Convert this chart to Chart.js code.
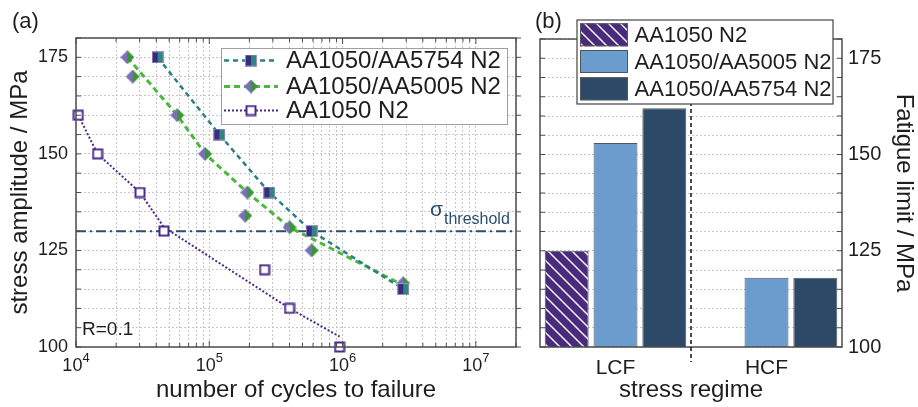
<!DOCTYPE html>
<html>
<head>
<meta charset="utf-8">
<title>Fatigue behaviour of AA1050 laminates</title>
<script src="https://cdn.jsdelivr.net/npm/chart.js@4"></script>
<style>
  html, body { margin: 0; padding: 0; background: #fff; }
  #panels { position: relative; width: 918px; height: 407px; }
  #panelA { position: absolute; left: 0; top: 0; }
  #panelB { position: absolute; left: 525px; top: 0; }
</style>
</head>
<body>
<div id="panels">
  <canvas id="panelA" width="525" height="407"></canvas>
  <canvas id="panelB" width="393" height="407"></canvas>
</div>
<script>
// ---------------- (a) S-N data ----------------
const cycles1050 = [1.04e4, 1.45e4, 3.02e4, 4.57e4, 2.6e5, 4.0e5, 9.5e5];
const stress1050 = [160, 150, 140, 130, 120, 110, 100];
const cycles5005 = [2.43e4, 2.66e4, 5.75e4, 9.3e4, 1.93e5, 1.86e5, 4.0e5, 5.86e5, 2.85e6];
const stress5005 = [175, 170, 160, 150, 140, 134, 131, 125, 116.5];
const cycles5754 = [4.1e4, 1.19e5, 2.82e5, 5.86e5, 2.85e6];
const stress5754 = [175, 155, 140, 130, 115];

// trend lines through the data
const trendCycles1050 = [1.04e4, 1.45e4, 3.02e4, 4.57e4, 4.0e5, 9.5e5];
const trendStress1050 = [160, 150, 140, 131, 110, 102.7];
const trendCycles5005 = [2.43e4, 5.75e4, 9.3e4, 1.93e5, 4.0e5, 2.85e6];
const trendStress5005 = [175, 160, 150, 140, 131, 116];
const trendCycles5754 = [4.1e4, 1.19e5, 2.82e5, 5.86e5, 2.85e6];
const trendStress5754 = [175, 155, 140, 130, 115];

const thresholdStress = 130;
const decadeTicks = [1e4, 1e5, 1e6, 1e7];
const stressTicks = [100, 125, 150, 175];

// ---------------- (b) fatigue limits ----------------
const regimes = ['LCF', 'HCF'];
const limit1050 = [125, null];
const limit5005 = [153, 118];
const limit5754 = [162, 118];

// ----------------------------------------------------
const FAMILY = "'Liberation Sans', Arial, sans-serif";
const font = size => size + 'px ' + FAMILY;
Chart.defaults.font.family = FAMILY;
Chart.defaults.color = '#1e1e1e';

const PURPLE = '#4b2a8c';
const TEAL = '#2b8080';
const GREEN = '#4ab83e';
const NAVY = '#2c4a68';
const LIGHTBLUE = '#6a9dcd';
const FRAME = '#4d4d4d';
const GRID = '#c6c6c6';

const pts = (xs, ys) => xs.map((x, i) => ({x, y: ys[i]}));

function markerCanvas(w, h, draw) {
  const c = document.createElement('canvas');
  c.width = w; c.height = h;
  draw(c.getContext('2d'));
  return c;
}

const square5754 = markerCanvas(12, 12, g => {
  g.fillStyle = '#3b2b80'; g.fillRect(0, 0, 6, 12);
  g.fillStyle = '#2e8582'; g.fillRect(6, 0, 6, 12);
  g.strokeStyle = '#9a92c4'; g.lineWidth = 1; g.strokeRect(0.5, 0.5, 11, 11);
});
const diamond5005 = markerCanvas(14, 14, g => {
  g.fillStyle = '#7a70b8';
  g.beginPath(); g.moveTo(7, 0); g.lineTo(0, 7); g.lineTo(7, 14); g.closePath(); g.fill();
  g.fillStyle = '#3b9538';
  g.beginPath(); g.moveTo(7, 0); g.lineTo(14, 7); g.lineTo(7, 14); g.closePath(); g.fill();
});
const square1050 = markerCanvas(12, 12, g => {
  g.fillStyle = '#fff'; g.fillRect(1, 1, 10, 10);
  g.strokeStyle = PURPLE; g.lineWidth = 2; g.strokeRect(1.5, 1.5, 9, 9);
});

function hatch(color) {
  const t = document.createElement('canvas');
  t.width = t.height = 12;
  const g = t.getContext('2d');
  g.fillStyle = color; g.fillRect(0, 0, 12, 12);
  g.strokeStyle = '#fff'; g.lineWidth = 1.4;
  g.beginPath();
  [-12, 0, 12].forEach(c => { g.moveTo(-1, -1 + c); g.lineTo(13, 13 + c); });
  g.stroke();
  return g.createPattern(t, 'repeat');
}
const hatch1050 = hatch('#4a2a7c');

function line(ctx, x1, y1, x2, y2) {
  ctx.beginPath(); ctx.moveTo(x1, y1); ctx.lineTo(x2, y2); ctx.stroke();
}

// ---------------- panel (a) ----------------
const legendA = [
  {label: 'AA1050/AA5754 N2', color: TEAL, dash: [5, 4], width: 2.5, marker: square5754},
  {label: 'AA1050/AA5005 N2', color: GREEN, dash: [6, 4], width: 3, marker: diamond5005},
  {label: 'AA1050 N2', color: PURPLE, dash: [2, 2], width: 2, marker: square1050}
];

const decorA = {
  id: 'decorA',
  beforeDatasetsDraw(chart) {
    const {ctx, chartArea: a, scales: {y}} = chart;
    const yT = y.getPixelForValue(thresholdStress);
    ctx.save();
    ctx.strokeStyle = '#2b4d72'; ctx.lineWidth = 2; ctx.setLineDash([10, 4, 2, 4]);
    line(ctx, a.left, yT, a.right, yT);
    ctx.restore();
  },
  afterDraw(chart) {
    const {ctx, chartArea: a, scales: {x, y}} = chart;
    ctx.save();
    // frame and ticks
    ctx.strokeStyle = FRAME; ctx.lineWidth = 1.5;
    ctx.strokeRect(a.left, a.top, a.right - a.left, a.bottom - a.top);
    ctx.lineWidth = 1;
    y.ticks.forEach(t => {
      const py = y.getPixelForValue(t.value);
      line(ctx, a.left, py, a.left + 5, py);
      line(ctx, a.right, py, a.right + 5, py);
    });
    x.ticks.forEach(t => {
      const px = x.getPixelForValue(t.value);
      const len = decadeTicks.includes(t.value) ? 6 : 4;
      line(ctx, px, a.bottom, px, a.bottom - len);
      line(ctx, px, a.top, px, a.top + len);
    });

    // 10^n tick labels
    ctx.fillStyle = '#1e1e1e';
    ctx.textAlign = 'left'; ctx.textBaseline = 'alphabetic';
    decadeTicks.forEach(v => {
      const px = x.getPixelForValue(v);
      const exp = String(Math.round(Math.log10(v)));
      ctx.font = font(18); const w1 = ctx.measureText('10').width;
      ctx.font = font(13); const w2 = ctx.measureText(exp).width;
      const x0 = px - (w1 + w2) / 2;
      ctx.font = font(18); ctx.fillText('10', x0, a.bottom + 24);
      ctx.font = font(13); ctx.fillText(exp, x0 + w1, a.bottom + 15);
    });

    // threshold label
    const yT = y.getPixelForValue(thresholdStress);
    ctx.fillStyle = '#2b4d72';
    ctx.font = font(21); ctx.fillText('σ', a.right - 86, yT - 15);
    const ws = ctx.measureText('σ').width;
    ctx.font = font(16); ctx.fillText('threshold', a.right - 86 + ws + 1, yT - 7.5);

    ctx.fillStyle = '#1e1e1e';
    ctx.font = font(19); ctx.fillText('R=0.1', a.left + 6, a.bottom - 12);
    ctx.font = font(22); ctx.fillText('(a)', 12, 28);

    // legend
    const lx = a.right - 295, ly = a.top + 10, lw = 286, lh = 76;
    ctx.fillStyle = '#fff'; ctx.fillRect(lx, ly, lw, lh);
    ctx.strokeStyle = '#a0a0a0'; ctx.lineWidth = 1;
    ctx.strokeRect(lx + 0.5, ly + 0.5, lw, lh);
    const rows = [12.5, 38.5, 62.5];
    legendA.forEach((e, i) => {
      const ry = ly + rows[i];
      ctx.strokeStyle = e.color; ctx.lineWidth = e.width; ctx.setLineDash(e.dash);
      line(ctx, lx + 3, ry, lx + 57, ry);
      ctx.setLineDash([]);
      ctx.drawImage(e.marker, lx + 30 - e.marker.width / 2, ry - e.marker.height / 2);
      ctx.fillStyle = '#1e1e1e'; ctx.font = font(24); ctx.textBaseline = 'middle';
      ctx.fillText(e.label, lx + 65, ry + 1);
    });
    ctx.restore();
  }
};

new Chart(document.getElementById('panelA'), {
  type: 'scatter',
  data: {
    datasets: [
      {data: pts(cycles5754, stress5754), pointStyle: square5754, clip: false},
      {data: pts(cycles5005, stress5005), pointStyle: diamond5005, clip: false},
      {data: pts(cycles1050, stress1050), pointStyle: square1050, clip: false},
      {data: pts(trendCycles5754, trendStress5754), showLine: true, pointRadius: 0,
       borderColor: TEAL, borderWidth: 2.5, borderDash: [5, 4]},
      {data: pts(trendCycles5005, trendStress5005), showLine: true, pointRadius: 0,
       borderColor: GREEN, borderWidth: 3, borderDash: [6, 4]},
      {data: pts(trendCycles1050, trendStress1050), showLine: true, pointRadius: 0,
       borderColor: PURPLE, borderWidth: 2, borderDash: [2, 2]}
    ]
  },
  options: {
    responsive: false,
    animation: false,
    layout: {padding: {left: 0, top: 38, right: 9, bottom: 0}},
    scales: {
      x: {
        type: 'logarithmic', min: 1e4, max: 2e7,
        afterBuildTicks(scale) {
          const vals = [];
          decadeTicks.forEach(d => {
            for (let m = 1; m <= 9; m++) if (d * m <= scale.max) vals.push(d * m);
          });
          scale.ticks = vals.map(value => ({value}));
        },
        ticks: {display: false},
        grid: {color: GRID, drawTicks: false},
        border: {display: false, dash: [2, 2]},
        title: {display: true, text: 'number of cycles to failure', font: {size: 24}, padding: {top: 0, bottom: 2}},
        afterFit(s) { s.height = 60; }
      },
      y: {
        min: 100, max: 180,
        ticks: {stepSize: 5, font: {size: 18}, padding: 8, autoSkip: false,
                callback: v => stressTicks.includes(v) ? v : ''},
        grid: {color: GRID, drawTicks: false},
        border: {display: false, dash: [2, 2]},
        title: {display: true, text: 'stress amplitude / MPa', font: {size: 24}, padding: {top: 6, bottom: 0}},
        afterFit(s) { s.width = 76; }
      }
    },
    plugins: {legend: {display: false}, tooltip: {enabled: false}}
  },
  plugins: [decorA]
});

// ---------------- panel (b) ----------------
const decorB = {
  id: 'decorB',
  afterDraw(chart) {
    const {ctx, chartArea: a, scales: {x, y}} = chart;
    ctx.save();
    ctx.strokeStyle = FRAME; ctx.lineWidth = 1.5;
    ctx.strokeRect(a.left, a.top, a.right - a.left, a.bottom - a.top);
    ctx.lineWidth = 1;
    y.ticks.forEach(t => {
      const py = y.getPixelForValue(t.value);
      line(ctx, a.left, py, a.left + 5, py);
      line(ctx, a.right, py, a.right - 5, py);
    });

    // regime separator
    const xs = (x.getPixelForValue(0) + x.getPixelForValue(1)) / 2;
    ctx.strokeStyle = '#111'; ctx.lineWidth = 1.5; ctx.setLineDash([4, 3]);
    line(ctx, xs, a.top, xs, a.bottom + 15);
    ctx.setLineDash([]);

    ctx.fillStyle = '#1e1e1e'; ctx.font = font(22);
    ctx.textAlign = 'left'; ctx.textBaseline = 'alphabetic';
    ctx.fillText('(b)', 10, 28);

    // legend
    const lx = a.right - 265, ly = 20, lw = 256, lh = 84;
    ctx.fillStyle = '#fff'; ctx.fillRect(lx, ly, lw, lh);
    ctx.strokeStyle = '#444'; ctx.lineWidth = 1.2;
    ctx.strokeRect(lx, ly, lw, lh);
    const rowsTop = [3.3, 30, 57.3];
    chart.data.datasets.forEach((ds, i) => {
      const sy = ly + rowsTop[i];
      ctx.fillStyle = ds.backgroundColor;
      ctx.fillRect(lx + 3, sy, 48, 23);
      ctx.strokeStyle = '#555'; ctx.lineWidth = 1;
      ctx.strokeRect(lx + 3.5, sy + 0.5, 47, 22);
      ctx.fillStyle = '#1e1e1e'; ctx.font = font(22); ctx.textBaseline = 'middle';
      ctx.fillText(ds.label, lx + 57.6, sy + 12.5);
    });
    ctx.restore();
  }
};

new Chart(document.getElementById('panelB'), {
  type: 'bar',
  data: {
    labels: regimes,
    datasets: [
      {label: 'AA1050 N2', data: limit1050, backgroundColor: hatch1050},
      {label: 'AA1050/AA5005 N2', data: limit5005, backgroundColor: LIGHTBLUE},
      {label: 'AA1050/AA5754 N2', data: limit5754, backgroundColor: NAVY}
    ]
  },
  options: {
    responsive: false,
    animation: false,
    layout: {padding: {left: 15, top: 39, right: 0, bottom: 0}},
    datasets: {bar: {categoryPercentage: 0.97, barPercentage: 0.9, borderColor: '#555', borderWidth: 1}},
    scales: {
      x: {
        grid: {display: false},
        border: {display: false},
        ticks: {font: {size: 21}, padding: 1, color: '#1e1e1e'},
        title: {display: true, text: 'stress regime', font: {size: 24}, padding: {top: 0, bottom: 2}},
        afterFit(s) { s.height = 60; }
      },
      y: {
        position: 'right', min: 100, max: 180,
        ticks: {stepSize: 5, font: {size: 20}, padding: 6, autoSkip: false,
                callback: v => stressTicks.includes(v) ? v : ''},
        grid: {color: GRID, drawTicks: false},
        border: {display: false, dash: [2, 2]},
        title: {display: true, text: 'Fatigue limit / MPa', font: {size: 24}, padding: {top: 0, bottom: 0}},
        afterFit(s) { s.width = 76; }
      }
    },
    plugins: {legend: {display: false}, tooltip: {enabled: false}}
  },
  plugins: [decorB]
});
</script>
</body>
</html>
